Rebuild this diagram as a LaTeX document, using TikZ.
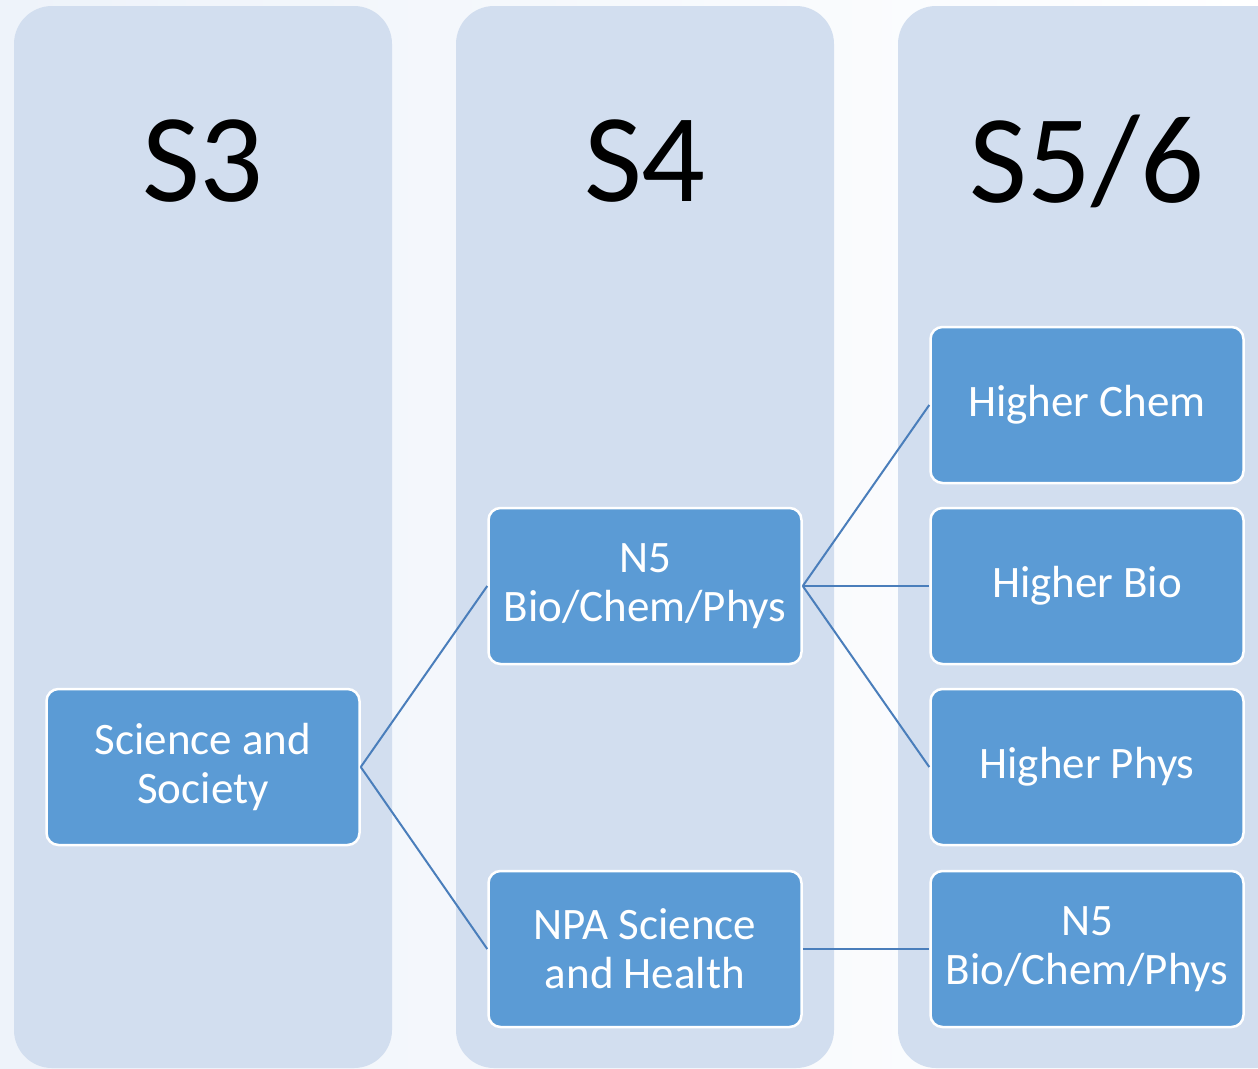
\documentclass[tikz,border=0pt]{standalone}
\usepackage{fontspec}
\setmainfont{Carlito}
\definecolor{panelblue}{HTML}{D2DEEF}
\definecolor{boxblue}{HTML}{5B9BD5}
\definecolor{linkblue}{HTML}{4A7EBB}
\definecolor{pagetint}{HTML}{EEF3FA}
\tikzset{
  yearpanel/.style={fill=panelblue, rounded corners=38pt},
  yearlabel/.style={font=\fontsize{126}{130}\selectfont, text=black},
  subjbox/.style={draw=white, line width=2.5pt, fill=boxblue, rounded corners=12pt,
    minimum width=313pt, minimum height=156pt, align=center, text=white,
    font=\fontsize{45}{49}\selectfont, inner sep=0pt},
  link/.style={draw=linkblue, line width=2pt}
}
\begin{document}
\begin{tikzpicture}[x=1pt, y=-1pt]
            \useasboundingbox (0,0) rectangle (1258,1068);
            \shade[left color=pagetint, right color=white] (0,0) rectangle (1258,1068);
            \begin{scope}
            \clip (0,0) rectangle (1258,1068);
            \fill[yearpanel] (14,6) rectangle (392,1068);
            \fill[yearpanel] (456,6) rectangle (834,1068);
            \fill[yearpanel] (898,6) rectangle (1300,1068);
            \end{scope}
            \node[yearlabel] (sthree) at (203,161) {S3};
            \node[yearlabel] (sfour) at (645,161) {S4};
            \node[yearlabel] (sfivesix) at (1087,161) {S5/6};
            % S3
            \node[subjbox] (society) at (203,767) {Science and\\Society};
            % S4
            \node[subjbox] (nfive) at (645,586) {N5\\Bio/Chem/Phys};
            \node[subjbox] (npa) at (645,949) {NPA Science\\and Health};
            % S5/6
            \node[subjbox] (hchem) at (1087,405) {Higher Chem};
            \node[subjbox] (hbio) at (1087,586) {Higher Bio};
            \node[subjbox] (hphys) at (1087,767) {Higher Phys};
            \node[subjbox] (nfivelate) at (1087,949) {N5\\Bio/Chem/Phys};
            \draw[link] (society.east) -- (nfive.west);
            \draw[link] (society.east) -- (npa.west);
            \draw[link] (nfive.east) -- (hchem.west);
            \draw[link] (nfive.east) -- (hbio.west);
            \draw[link] (nfive.east) -- (hphys.west);
            \draw[link] (npa.east) -- (nfivelate.west);
        \end{tikzpicture}
\end{document}
